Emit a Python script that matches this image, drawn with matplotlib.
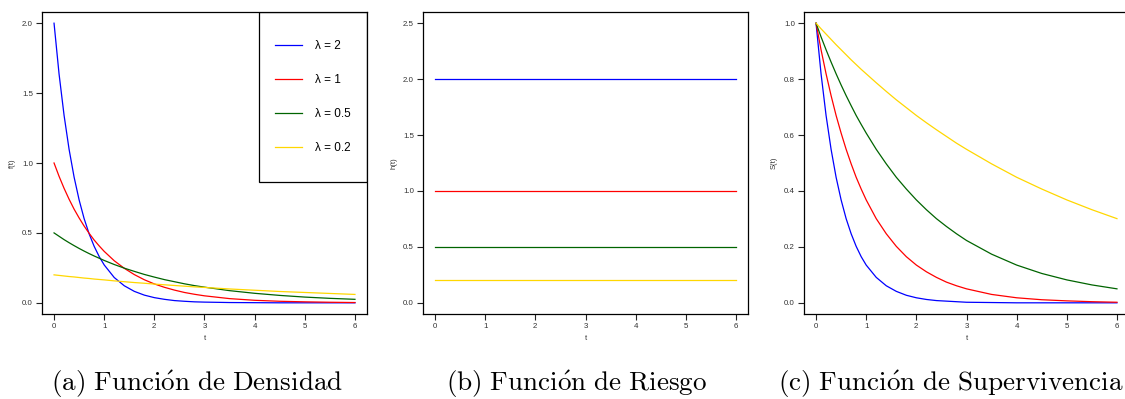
import numpy as np
import matplotlib.pyplot as plt
from matplotlib.patches import Rectangle

plt.rcParams['font.family'] = ['Liberation Sans', 'DejaVu Sans']
plt.rcParams['mathtext.fontset'] = 'cm'

# values
t = [0, 0.1, 0.2, 0.3, 0.4, 0.5, 0.6, 0.7, 0.8, 0.9, 1.0, 1.2, 1.4, 1.6, 1.8,
     2.0, 2.2, 2.4, 2.6, 2.8, 3.0, 3.5, 4.0, 4.5, 5.0, 5.5, 6.0]
lambdas = ["2", "1", "0.5", "0.2"]
colors = ["blue", "red", "darkgreen", "gold"]

dens_2 = [2.000, 1.637, 1.341, 1.098, 0.899, 0.736, 0.602, 0.493, 0.404, 0.331, 0.271, 0.181, 0.122, 0.082,
          0.055, 0.037, 0.025, 0.016, 0.011, 0.007, 0.005, 0.002, 0.001, 0.0, 0.0, 0.0, 0.0]
dens_1 = [1.000, 0.905, 0.819, 0.741, 0.670, 0.607, 0.549, 0.497, 0.449, 0.407, 0.368, 0.301, 0.247, 0.202,
          0.165, 0.135, 0.111, 0.091, 0.074, 0.061, 0.050, 0.030, 0.018, 0.011, 0.007, 0.004, 0.002]
dens_05 = [0.500, 0.476, 0.452, 0.430, 0.409, 0.389, 0.370, 0.352, 0.335, 0.319, 0.303, 0.274, 0.248, 0.225,
           0.203, 0.184, 0.166, 0.151, 0.136, 0.123, 0.112, 0.087, 0.068, 0.053, 0.041, 0.032, 0.025]
dens_02 = [0.200, 0.196, 0.192, 0.188, 0.185, 0.181, 0.177, 0.174, 0.170, 0.167, 0.164, 0.157, 0.151, 0.145,
           0.140, 0.134, 0.129, 0.124, 0.119, 0.114, 0.110, 0.099, 0.090, 0.081, 0.074, 0.067, 0.060]

hazard = [2.0, 1.0, 0.5, 0.2]

surv_2 = [1.000, 0.819, 0.670, 0.549, 0.449, 0.368, 0.301, 0.247, 0.202, 0.165, 0.135, 0.091, 0.061, 0.041,
          0.027, 0.018, 0.012, 0.008, 0.006, 0.004, 0.002, 0.001, 0.0, 0.0, 0.0, 0.0, 0.0]
surv_1 = dens_1
surv_05 = [1.000, 0.951, 0.905, 0.861, 0.819, 0.779, 0.741, 0.705, 0.670, 0.638, 0.607, 0.549, 0.497, 0.449,
           0.407, 0.368, 0.333, 0.301, 0.273, 0.247, 0.223, 0.174, 0.135, 0.105, 0.082, 0.064, 0.050]
surv_02 = [1.000, 0.980, 0.961, 0.942, 0.923, 0.905, 0.887, 0.869, 0.852, 0.835, 0.819, 0.787, 0.756, 0.726,
           0.698, 0.670, 0.644, 0.619, 0.595, 0.571, 0.549, 0.497, 0.449, 0.407, 0.368, 0.333, 0.301]

density = [dens_2, dens_1, dens_05, dens_02]
survival = [surv_2, surv_1, surv_05, surv_02]

fig = plt.figure(figsize=(11.25, 3.99), dpi=100)
W, H = 1125, 399
lefts = [42, 423, 804]
axes = [fig.add_axes([l / W, (H - 314) / H, 325 / W, 302 / H]) for l in lefts]

def style(ax, ymax, ystep, ylab):
    ax.set_xlim(-0.24, 6.24)
    ax.set_ylim(-0.04 * ymax, 1.04 * ymax)
    ax.set_xticks(range(0, 7))
    yt = np.arange(0, ymax + 1e-9, ystep)
    ax.set_yticks(yt)
    ax.set_yticklabels(["%.1f" % v for v in yt])
    ax.tick_params(direction='out', length=4, width=0.8, labelsize=5.7,
                   pad=2.5, colors='#222222', labelcolor='#333333')
    for s in ax.spines.values():
        s.set_linewidth(0.9)
    ax.set_xlabel("t", fontsize=5.5, color='#333333')
    ax.set_ylabel(ylab, fontsize=5.5, color='#333333')
    ax.xaxis.set_label_coords(0.5, -0.07)
    ax.yaxis.set_label_coords(-0.08, 0.5)

ax1, ax2, ax3 = axes
for vals, c, lab in zip(density, colors, lambdas):
    ax1.plot(t, vals, color=c, lw=0.9, label="λ = " + lab)
style(ax1, 2.0, 0.5, "f(t)")

for h, c in zip(hazard, colors):
    ax2.plot([t[0], t[-1]], [h, h], color=c, lw=0.9)
style(ax2, 2.5, 0.5, "h(t)")

for vals, c in zip(survival, colors):
    ax3.plot(t, vals, color=c, lw=0.9)
style(ax3, 1.0, 0.2, "S(t)")

# legend box in the upper right corner
box = (0.668, 0.437, 0.332, 0.563)
ax1.add_patch(Rectangle(box[:2], box[2], box[3], transform=ax1.transAxes,
                        fill=False, lw=0.9, ec='black', zorder=5))
ax1.legend(loc='center', bbox_to_anchor=box, frameon=False, fontsize=8.5,
           labelspacing=1.85, handlelength=2.3, handletextpad=1.1)

captions = [r"$\mathrm{(a)\ Funci\acute{o}n\ de\ Densidad}$",
            r"$\mathrm{(b)\ Funci\acute{o}n\ de\ Riesgo}$",
            r"$\mathrm{(c)\ Funci\acute{o}n\ de\ Supervivencia}$"]
cap_x = [197, 577, 1123]
cap_ha = ['center', 'center', 'right']
for x, cap, ha in zip(cap_x, captions, cap_ha):
    fig.text(x / W, (H - 391) / H, cap, fontsize=19.5, ha=ha, va='baseline')

fig.savefig("out.png", dpi=100)
